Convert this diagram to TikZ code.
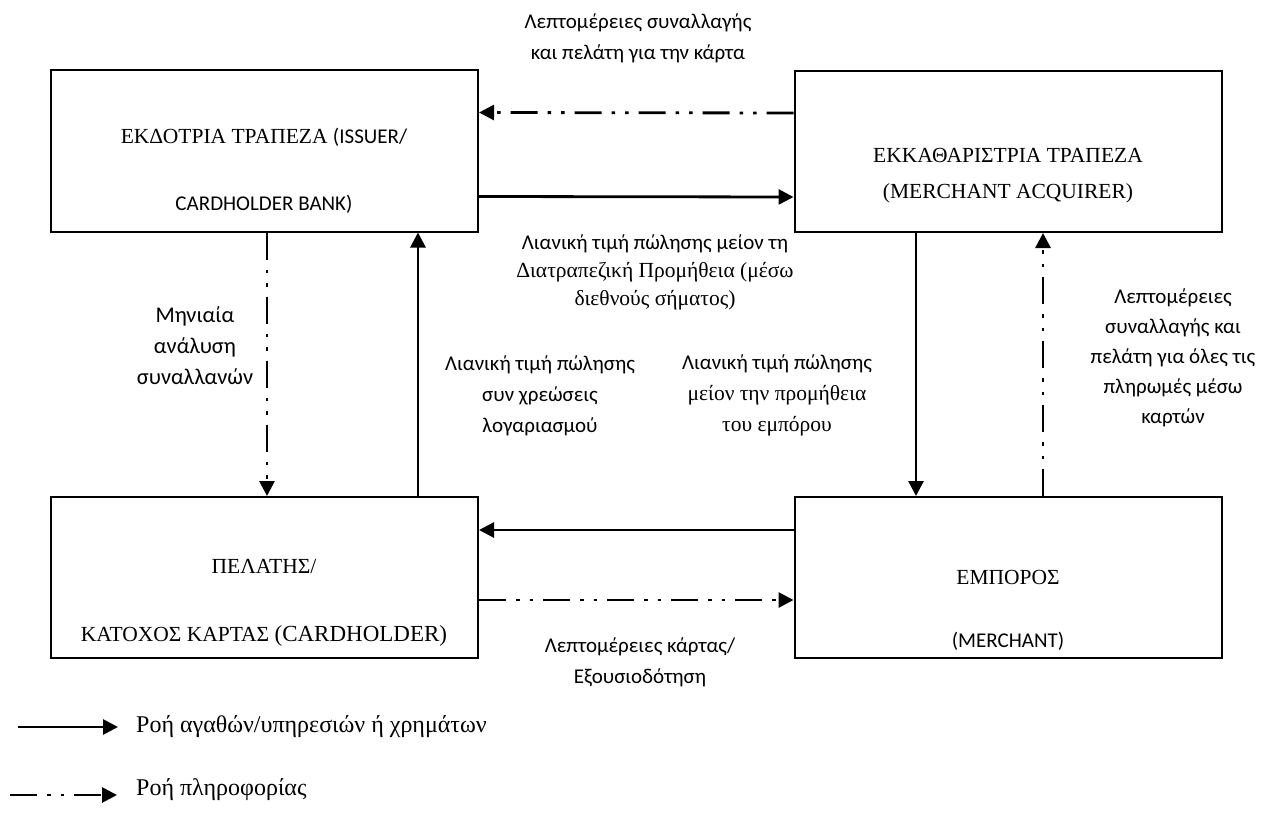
\documentclass[tikz,border=0pt]{standalone}
\usepackage{fontspec}
\setmainfont{Liberation Serif}
\setsansfont{Carlito}
\usetikzlibrary{arrows.meta}

\tikzset{
  box/.style={draw, line width=2pt, minimum width=427pt, minimum height=161pt, inner sep=0pt},
  money/.style={line width=2.8pt, -{Triangle[length=15pt,width=15pt]}},
  info/.style={money, dash pattern=on 27pt off 10pt on 3.5pt off 10pt on 3.5pt off 10pt},
  sans/.style={font=\sffamily\fontsize{21}{31}\selectfont, align=center, inner sep=0pt},
  serif/.style={font=\fontsize{21.5}{27}\selectfont, align=center, inner sep=0pt},
}

\begin{document}
\begin{tikzpicture}[x=1pt,y=-1pt]
	\useasboundingbox (0,0) rectangle (1265,821);

	% the four parties
	\node[box] (issuer) at (264.5,151) {};
	\node[box] (acquirer) at (1008,151.5) {};
	\node[box] (holder) at (264.5,577.5) {};
	\node[box] (merchant) at (1008,577.5) {};

	\node[serif] (issuerA) at (264,137) {ΕΚΔΟΤΡΙΑ ΤΡΑΠΕΖΑ {\sffamily\fontsize{21}{31}\selectfont (ISSUER/}};
	\node[sans] (issuerB) at (264,204) {CARDHOLDER BANK)};
	\node[serif] (acquirerA) at (1008,155) {ΕΚΚΑΘΑΡΙΣΤΡΙΑ ΤΡΑΠΕΖΑ};
	\node[serif] (acquirerB) at (1008,193) {(MERCHANT ACQUIRER)};
	\node[serif] (holderA) at (264,567) {ΠΕΛΑΤΗΣ/};
	\node[serif] (holderB) at (264,636) {ΚΑΤΟΧΟΣ ΚΑΡΤΑΣ {\fontsize{23}{27}\selectfont(CARDHOLDER)}};
	\node[serif] (merchantA) at (1008,577) {ΕΜΠΟΡΟΣ};
	\node[sans] (merchantB) at (1008,641) {(MERCHANT)};

	% flows
	\draw[info] ([yshift=38.5pt]acquirer.west) -- ([yshift=38.5pt]issuer.east);
	\draw[money] ([yshift=-45.5pt]issuer.east) -- ([yshift=-45.5pt]acquirer.west);
	\draw[info] ([xshift=2.5pt]issuer.south) -- ([xshift=2.5pt]holder.north);
	\draw[money] ([xshift=153.5pt]holder.north) -- ([xshift=153.5pt]issuer.south);
	\draw[money] ([xshift=-92pt]acquirer.south) -- ([xshift=-92pt]merchant.north);
	\draw[info] ([xshift=35pt]merchant.north) -- ([xshift=35pt]acquirer.south);
	\draw[money] ([yshift=47.5pt]merchant.west) -- ([yshift=47.5pt]holder.east);
	\draw[info] ([yshift=-22.5pt]holder.east) -- ([yshift=-22.5pt]merchant.west);

	% flow labels
	\node[sans] (toplbl) at (638,38) {Λεπτομέρειες συναλλαγής\\και πελάτη για την κάρτα};
	\node[sans] (midlbl) at (655,272) {Λιανική τιμή πώλησης μείον τη\\[-3pt]
		{\rmfamily\fontsize{21.5}{27}\selectfont Διατραπεζική Προμήθεια (μέσω}\\[-3pt]
		{\rmfamily\fontsize{21.5}{27}\selectfont διεθνούς σήματος)}};
	\node[sans, font=\sffamily\fontsize{22.5}{31}\selectfont] (monthlbl) at (195,346) {Μηνιαία\\ανάλυση\\συναλλανών};
	\node[sans] (chargelbl) at (540,396) {Λιανική τιμή πώλησης\\συν χρεώσεις\\λογαριασμού};
	\node[sans] (netlbl) at (777,395) {Λιανική τιμή πώλησης\\
		{\rmfamily\fontsize{21.5}{27}\selectfont μείον την προμήθεια}\\
		{\rmfamily\fontsize{21.5}{27}\selectfont του εμπόρου}};
	\node[sans, font=\sffamily\fontsize{21}{30}\selectfont] (detaillbl) at (1173,358) {Λεπτομέρειες\\συναλλαγής και\\πελάτη για όλες τις\\πληρωμές μέσω\\καρτών};
	\node[sans] (authlbl) at (640,662) {Λεπτομέρειες κάρτας/\\Εξουσιοδότηση};

	% legend
	\coordinate (keyA) at (18,727);
	\coordinate (keyB) at (118,727);
	\coordinate (keyC) at (10,795);
	\coordinate (keyD) at (117,795);
	\draw[money] (keyA) -- (keyB);
	\draw[info] (keyC) -- (keyD);
	\node[serif, anchor=west, font=\fontsize{24}{27}\selectfont] (keylblA) at (136,727) {Ροή αγαθών/υπηρεσιών ή χρημάτων};
	\node[serif, anchor=west, font=\fontsize{24}{27}\selectfont] (keylblB) at (136,790) {Ροή πληροφορίας};
\end{tikzpicture}
\end{document}
